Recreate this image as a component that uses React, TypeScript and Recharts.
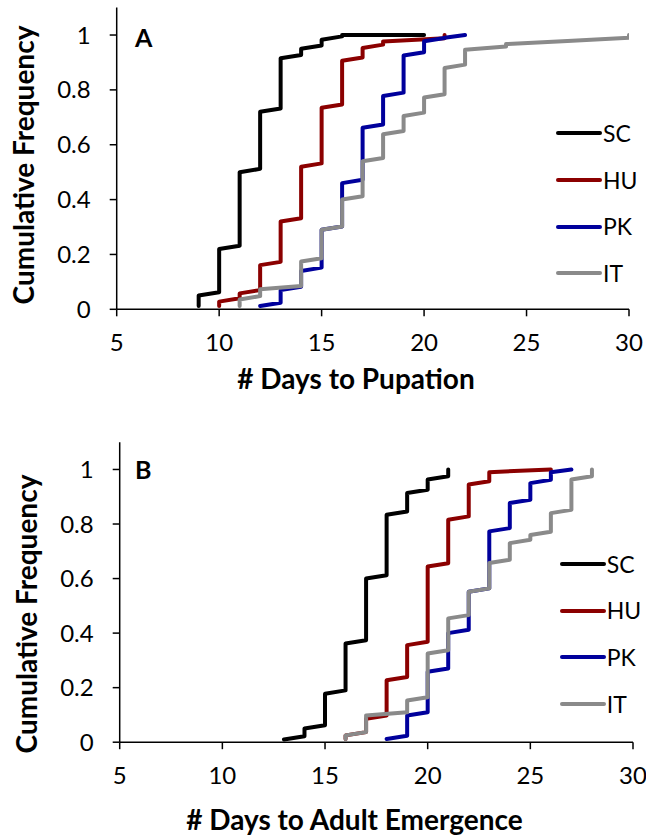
import React from 'react';
import { LineChart, Line, XAxis, YAxis, Legend } from 'recharts';

// Populations, in drawing order (later series sit on top)
const populations = ['SC', 'HU', 'PK', 'IT'];
const populationColors = ['#000000', '#8B0000', '#00009C', '#8A8A8A'];

const xTicks = [5, 10, 15, 20, 25, 30];
const yTicks = [0, 0.2, 0.4, 0.6, 0.8, 1];

// Panel A: days to pupation (day, cumulative frequency reached that day)
const pupSCDays = [9, 10, 11, 12, 13, 14, 15, 16, 20];
const pupSCFreq = [0.05, 0.22, 0.5, 0.72, 0.915, 0.95, 0.983, 1, 1];
const pupHUDays = [10, 11, 12, 13, 14, 15, 16, 17, 18, 21];
const pupHUFreq = [0.028, 0.058, 0.161, 0.32, 0.52, 0.735, 0.906, 0.953, 0.976, 1];
const pupPKDays = [12, 13, 14, 15, 16, 17, 18, 19, 20, 21, 22];
const pupPKFreq = [0.012, 0.07, 0.14, 0.29, 0.46, 0.662, 0.778, 0.925, 0.977, 0.99, 1];
const pupITDays = [11, 12, 14, 15, 16, 17, 18, 19, 20, 21, 22, 24, 27, 30];
const pupITFreq = [0.036, 0.073, 0.174, 0.29, 0.4, 0.54, 0.638, 0.705, 0.772, 0.88, 0.946, 0.967, 0.978, 1];

// Panel B: days to adult emergence
const emSCDays = [13, 14, 15, 16, 17, 18, 19, 20, 21];
const emSCFreq = [0.01, 0.05, 0.178, 0.362, 0.6, 0.834, 0.914, 0.963, 1];
const emHUDays = [16, 17, 18, 19, 20, 21, 22, 23, 26];
const emHUFreq = [0.025, 0.086, 0.227, 0.356, 0.644, 0.816, 0.945, 0.99, 1];
const emPKDays = [18, 19, 20, 21, 22, 23, 24, 25, 26, 27];
const emPKFreq = [0.012, 0.098, 0.258, 0.4, 0.552, 0.773, 0.877, 0.95, 0.99, 1];
const emITDays = [16, 17, 19, 20, 21, 22, 23, 24, 25, 26, 27, 28];
const emITFreq = [0.025, 0.098, 0.153, 0.325, 0.454, 0.552, 0.657, 0.73, 0.76, 0.84, 0.963, 1];

// Share of one insect: each run between days climbs by this before the next jump
const ONE_INSECT = 0.012;

const FONT = 'Lato, "Open Sans", sans-serif';

type Pt = { day: number; value: number };

// Per-insect cumulative curve: arrive at each day one insect higher, then jump to the day's total
function cumulativePoints(days: number[], freq: number[]): Pt[] {
  const pts: Pt[] = [];
  let prev = 0;
  days.forEach((d, i) => {
    const lead = Math.min(prev + ONE_INSECT, freq[i]);
    if (lead < freq[i]) pts.push({ day: d, value: lead });
    pts.push({ day: d, value: freq[i] });
    prev = freq[i];
  });
  return pts;
}

const pupationSeries = [
  cumulativePoints(pupSCDays, pupSCFreq),
  cumulativePoints(pupHUDays, pupHUFreq),
  cumulativePoints(pupPKDays, pupPKFreq),
  cumulativePoints(pupITDays, pupITFreq),
];
const emergenceSeries = [
  cumulativePoints(emSCDays, emSCFreq),
  cumulativePoints(emHUDays, emHUFreq),
  cumulativePoints(emPKDays, emPKFreq),
  cumulativePoints(emITDays, emITFreq),
];

type PanelProps = {
  top: number;
  letter: string;
  xTitle: string;
  series: Pt[][];
  margin: { top: number; right: number; bottom: number; left: number };
  yAxisWidth: number;
  xTitlePos: { x: number; y: number };
  yTitlePos: { x: number; y: number };
  letterPos: { x: number; y: number };
  legendPos: { left: number; top: number };
};

// Legend keeps the population order SC, HU, PK, IT
const legendContent = () => (
  <div style={{ fontFamily: FONT, fontSize: 23, color: '#000' }}>
    {populations.map((name, i) => (
      <div key={name} style={{ display: 'flex', alignItems: 'center', height: 46.7 }}>
        <svg width={47} height={10} style={{ display: 'block' }}>
          <line x1={2} y1={5} x2={44} y2={5} stroke={populationColors[i]} strokeWidth={4} strokeLinecap="round" />
        </svg>
        <span style={{ lineHeight: '23px' }}>{name}</span>
      </div>
    ))}
  </div>
);

function Panel(p: PanelProps) {
  const width = 646;
  const height = 420;
  return (
    <div style={{ position: 'absolute', left: 0, top: p.top, width, height }}>
      <LineChart width={width} height={height} margin={p.margin}>
        <XAxis
          type="number"
          dataKey="day"
          domain={[5, 30]}
          ticks={xTicks}
          interval={0}
          allowDataOverflow
          height={60}
          tickSize={7}
          tickMargin={18}
          axisLine={{ stroke: '#000', strokeWidth: 1.5 }}
          tickLine={{ stroke: '#000', strokeWidth: 1.5 }}
          tick={{ fill: '#000', fontSize: 24, fontFamily: FONT }}
          label={() => (
            <text
              x={p.xTitlePos.x}
              y={p.xTitlePos.y}
              textAnchor="middle"
              fontFamily={FONT}
              fontWeight={700}
              fontSize={28}
              fill="#000"
            >
              {p.xTitle}
            </text>
          )}
        />
        <YAxis
          type="number"
          domain={[0, 1.1]}
          ticks={yTicks}
          interval={0}
          allowDataOverflow
          width={p.yAxisWidth}
          tickSize={7}
          tickMargin={19}
          axisLine={{ stroke: '#000', strokeWidth: 1.5 }}
          tickLine={{ stroke: '#000', strokeWidth: 1.5 }}
          tick={{ fill: '#000', fontSize: 24, fontFamily: FONT }}
          label={() => (
            <g>
              <text
                x={p.yTitlePos.x}
                y={p.yTitlePos.y}
                transform={`rotate(-90, ${p.yTitlePos.x}, ${p.yTitlePos.y})`}
                textAnchor="middle"
                fontFamily={FONT}
                fontWeight={700}
                fontSize={28}
                fill="#000"
              >
                Cumulative Frequency
              </text>
              <text
                x={p.letterPos.x}
                y={p.letterPos.y}
                fontFamily={FONT}
                fontWeight={700}
                fontSize={25}
                fill="#000"
              >
                {p.letter}
              </text>
            </g>
          )}
        />
        <Legend
          layout="horizontal"
          verticalAlign="middle"
          align="center"
          wrapperStyle={{ left: p.legendPos.left, top: p.legendPos.top, width: 90, height: 190 }}
          content={legendContent}
        />
        {p.series.map((pts, i) => (
          <Line
            key={populations[i]}
            name={populations[i]}
            data={pts}
            dataKey="value"
            type="linear"
            stroke={populationColors[i]}
            strokeWidth={4}
            strokeLinejoin="round"
            strokeLinecap="round"
            dot={false}
            activeDot={false}
            isAnimationActive={false}
          />
        ))}
      </LineChart>
    </div>
  );
}

export default function App() {
  return (
    <div style={{ position: 'absolute', left: 0, top: 0, width: 646, height: 840, background: '#fff', overflow: 'hidden' }}>
      <Panel
        top={0}
        letter="A"
        xTitle="# Days to Pupation"
        series={pupationSeries}
        margin={{ top: 7.6, right: 17, bottom: 50.7, left: 0 }}
        yAxisWidth={116.7}
        xTitlePos={{ x: 356, y: 389 }}
        yTitlePos={{ x: 34, y: 165 }}
        letterPos={{ x: 135, y: 46.7 }}
        legendPos={{ left: 556, top: 110 }}
      />
      <Panel
        top={420}
        letter="B"
        xTitle="# Days to Adult Emergence"
        series={emergenceSeries}
        margin={{ top: 22.2, right: 13, bottom: 37.8, left: 0 }}
        yAxisWidth={119.7}
        xTitlePos={{ x: 354.5, y: 410 }}
        yTitlePos={{ x: 36.5, y: 194 }}
        letterPos={{ x: 135, y: 58.5 }}
        legendPos={{ left: 559.7, top: 120.7 }}
      />
    </div>
  );
}
